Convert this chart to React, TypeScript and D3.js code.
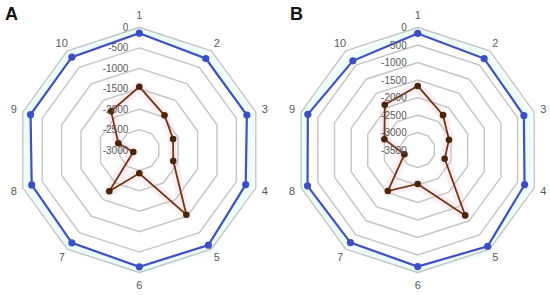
import React from "react";
import * as d3 from "d3";

// axis categories (spokes)
const categories = ["1", "2", "3", "4", "5", "6", "7", "8", "9", "10"];

// panel A
const aTicks = [0, -500, -1000, -1500, -2000, -2500, -3000];
const aBlue = [-140, -230, -230, -260, -120, -140, -190, -230, -200, -190];
const aBrown = [-1450, -1950, -2130, -2125, -1040, -2430, -1750, -2845, -2460, -1825];

// panel B
const bTicks = [0, -500, -1000, -1500, -2000, -2500, -3000, -3500];
const bBlue = [-170, -270, -310, -290, -100, -170, -230, -190, -200, -350];
const bBrown = [-1670, -2270, -2560, -2690, -1190, -2530, -2050, -3100, -2500, -1900];

const R = 122.5;
const FONT = "'Liberation Sans', Arial, sans-serif";

type RadarProps = {
  cx: number;
  cy: number;
  letter: string;
  letterX: number;
  ticks: number[];
  blue: number[];
  brown: number[];
};

function Radar({ cx, cy, letter, letterX, ticks, blue, brown }: RadarProps) {
  const min = d3.min(ticks) as number;
  const r = d3.scaleLinear().domain([min, 0]).range([0, R]);
  const angle = d3.scaleLinear().domain([0, categories.length]).range([0, 2 * Math.PI]);

  const ring = (rad: number) =>
    d3
      .lineRadial<number>()
      .angle((_, i) => angle(i))
      .radius(() => rad)
      .curve(d3.curveLinearClosed)(categories.map((_, i) => i)) as string;

  const dataLine = (vals: number[], off = 0) =>
    d3
      .lineRadial<number>()
      .angle((_, i) => angle(i))
      .radius((d) => r(d) + off)
      .curve(d3.curveLinearClosed)(vals) as string;

  const pt = (v: number, i: number) => {
    const a = angle(i);
    const rr = r(v);
    return [rr * Math.sin(a), -rr * Math.cos(a)];
  };

  return (
    <g>
      <text x={letterX} y={20} fontFamily={FONT} fontWeight="bold" fontSize={18} fill="#111">
        {letter}
      </text>
      <g transform={`translate(${cx},${cy})`}>
        {/* faint glow bands */}
        <path d={dataLine(blue, 4)} fill="none" stroke="#edfcfc" strokeWidth={7} />
        <path d={dataLine(brown)} fill="none" stroke="#fdeef4" strokeWidth={10} strokeLinejoin="round" />

        {/* grid rings */}
        {ticks
          .filter((t) => t !== min)
          .map((t) => (
            <path key={t} d={ring(r(t))} fill="none" stroke="#c4c4c4" strokeWidth={1.4} />
          ))}

        {/* blue series */}
        <path d={dataLine(blue)} fill="none" stroke="#3d51c2" strokeWidth={2.2} />
        {blue.map((v, i) => {
          const [x, y] = pt(v, i);
          return <circle key={i} cx={x} cy={y} r={3.6} fill="#3a4fc4" />;
        })}

        {/* brown series */}
        <path d={dataLine(brown)} fill="none" stroke="#743410" strokeWidth={1.8} />
        {brown.map((v, i) => {
          const [x, y] = pt(v, i);
          return <circle key={i} cx={x} cy={y} r={3.3} fill="#4b2507" />;
        })}

        {/* value labels */}
        {ticks.map((t) => (
          <text
            key={t}
            x={-11}
            y={-r(t)}
            dy="0.35em"
            textAnchor="end"
            fontFamily={FONT}
            fontSize={10}
            fill="#595959"
          >
            {t}
          </text>
        ))}

        {/* category labels */}
        {categories.map((c, i) => {
          const a = angle(i);
          const lr = i === 0 || i === 5 ? 135 : 132;
          return (
            <text
              key={c}
              x={lr * Math.sin(a)}
              y={-lr * Math.cos(a)}
              dy="0.35em"
              textAnchor="middle"
              fontFamily={FONT}
              fontSize={11}
              fill="#595959"
            >
              {c}
            </text>
          );
        })}
      </g>
    </g>
  );
}

export default function App() {
  return (
    <svg
      width={550}
      height={295}
      style={{ position: "absolute", left: 0, top: 0, background: "#fff" }}
    >
      <Radar cx={139.3} cy={150} letter="A" letterX={5} ticks={aTicks} blue={aBlue} brown={aBrown} />
      <Radar cx={417.7} cy={150} letter="B" letterX={290} ticks={bTicks} blue={bBlue} brown={bBrown} />
    </svg>
  );
}
